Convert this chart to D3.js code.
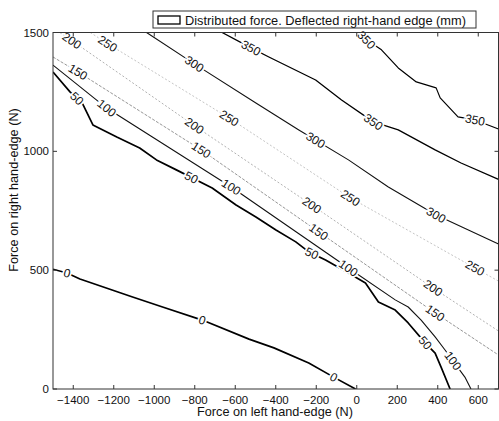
<!DOCTYPE html>
<html>
<head>
<meta charset="utf-8">
<script src="https://cdn.jsdelivr.net/npm/d3@7"></script>
<style>
  html, body { margin: 0; padding: 0; background: #fff; }
  svg { display: block; }
  text { font-family: "Liberation Sans", Arial, Helvetica, sans-serif; fill: #111; }
</style>
</head>
<body>
<svg id="chart" width="499" height="421"></svg>
<script>
// Axis ticks
const xTicks = [-1400, -1200, -1000, -800, -600, -400, -200, 0, 200, 400, 600];
const yTicks = [0, 500, 1000, 1500];

// Contour levels (mm) and their traced paths: [left-edge force N, right-edge force N]
const levels = [0, 50, 100, 150, 200, 250, 300, 350, 350];
const contour0 = [[-1500,504],[-1431,488],[-1367,463],[-1107,387],[-959,345],[-763,290],[-532,210],[-409,173],[-237,109],[-114,50],[-6,0]];
const contour50 = [[-1500,1334],[-1416,1250],[-1353,1199],[-1303,1111],[-1185,1060],[-1072,1014],[-989,964],[-891,922],[-714,846],[-596,774],[-498,724],[-399,669],[-301,619],[-237,577],[-154,543],[-41,488],[43,446],[107,366],[190,332],[254,278],[338,194],[387,151],[416,93],[461,0]];
const contour100 = [[-1500,1363],[-1235,1182],[-620,850],[-41,509],[190,375],[254,345],[318,290],[387,219],[436,164],[534,50],[564,0]];
const contour150 = [[-1500,1397],[-1377,1334],[-768,1006],[-188,661],[387,320],[700,143]];
const contour200 = [[-1466,1500],[-1407,1466],[-802,1108],[-222,774],[377,425],[700,244]];
const contour250 = [[-1316,1500],[-1230,1453],[-630,1140],[-31,804],[584,509],[700,454]];
const contour300 = [[-1038,1500],[-802,1368],[-498,1203],[-286,1090],[-41,964],[156,850],[392,732],[700,610]];
const contour350a = [[-665,1500],[-522,1435],[-434,1397],[-203,1300],[-75,1216],[82,1124],[205,1090],[387,1006],[515,951],[700,882]];
const contour350b = [[14,1500],[48,1469],[122,1427],[205,1351],[294,1292],[392,1267],[412,1225],[500,1145],[584,1132],[700,1094]];
const contourPaths = [contour0, contour50, contour100, contour150, contour200, contour250, contour300, contour350a, contour350b];

// Where each contour's inline labels sit (left-edge force, N)
const labelAt = [
  [-1431, -763, -114],
  [-1382, -817, -222, 338],
  [-1235, -620, -41, 475],
  [-1377, -768, -188, 387],
  [-1407, -802, -222, 377],
  [-1230, -630, -31, 584],
  [-802, -203, 392],
  [-522, 82],
  [48, 584]
];

const legendText = "Distributed force. Deflected right-hand edge (mm)";
const xTitle = "Force on left hand-edge (N)";
const yTitle = "Force on right hand-edge (N)";

// Stroke style per level (greyscale rendering of the level colours)
const styles = [
  { stroke: "#000", width: 1.7, dash: null },
  { stroke: "#000", width: 1.7, dash: null },
  { stroke: "#111", width: 1.1, dash: null },
  { stroke: "#8a8a8a", width: 0.9, dash: "3,1.5" },
  { stroke: "#a8a8a8", width: 0.9, dash: "2,2" },
  { stroke: "#bdbdbd", width: 0.9, dash: "2,2" },
  { stroke: "#111", width: 1.1, dash: null },
  { stroke: "#000", width: 1.3, dash: null },
  { stroke: "#000", width: 1.2, dash: null }
];

const fmt = v => String(v).replace("-", "\u2212");

const svg = d3.select("#chart");
svg.append("rect").attr("width", 499).attr("height", 421).attr("fill", "#fff");

const x = d3.scaleLinear().domain([-1500, 700]).range([53, 498.5]);
const y = d3.scaleLinear().domain([0, 1500]).range([389, 32.5]);

const plot = svg.append("g");
plot.append("clipPath").attr("id", "clip")
  .append("rect").attr("x", 53).attr("y", 32.5).attr("width", 445.5).attr("height", 356.5);

const line = d3.line().x(d => x(d[0])).y(d => y(d[1]));
const lines = plot.append("g").attr("clip-path", "url(#clip)");

contourPaths.forEach((pts, i) => {
  const s = styles[i];
  lines.append("path")
    .attr("d", line(pts))
    .attr("fill", "none")
    .attr("stroke", s.stroke)
    .attr("stroke-width", s.width)
    .attr("stroke-linejoin", "round")
    .attr("stroke-dasharray", s.dash);
});

// Inline contour labels, rotated along the local segment
function pointOn(pts, xv) {
  for (let k = 0; k < pts.length - 1; k++) {
    const a = pts[k], b = pts[k + 1];
    if ((xv >= a[0] && xv <= b[0]) || (xv <= a[0] && xv >= b[0])) {
      const t = (xv - a[0]) / (b[0] - a[0] || 1);
      return { p: [a[0] + t * (b[0] - a[0]), a[1] + t * (b[1] - a[1])], a, b };
    }
  }
  return null;
}

const labels = plot.append("g");
labelAt.forEach((xs, i) => {
  xs.forEach(xv => {
    const hit = pointOn(contourPaths[i], xv);
    if (!hit) return;
    const px = x(hit.p[0]), py = y(hit.p[1]);
    const ang = Math.atan2(y(hit.b[1]) - y(hit.a[1]), x(hit.b[0]) - x(hit.a[0])) * 180 / Math.PI;
    labels.append("text")
      .attr("transform", `translate(${px},${py}) rotate(${ang})`)
      .attr("text-anchor", "middle")
      .attr("dy", "0.35em")
      .attr("font-size", 12)
      .attr("stroke", "#fff")
      .attr("stroke-width", 3.5)
      .attr("paint-order", "stroke")
      .text(levels[i]);
  });
});

// Frame with inward ticks on all sides
const axes = svg.append("g");
axes.append("rect")
  .attr("x", 53).attr("y", 32.5).attr("width", 445.5).attr("height", 356.5)
  .attr("fill", "none").attr("stroke", "#333").attr("stroke-width", 1);

const tickLen = 4;
xTicks.forEach(v => {
  axes.append("line").attr("x1", x(v)).attr("x2", x(v)).attr("y1", 389).attr("y2", 389 - tickLen)
    .attr("stroke", "#333");
  axes.append("line").attr("x1", x(v)).attr("x2", x(v)).attr("y1", 32.5).attr("y2", 32.5 + tickLen)
    .attr("stroke", "#333");
  axes.append("text").attr("x", x(v)).attr("y", 404).attr("text-anchor", "middle")
    .attr("font-size", 11.5).text(fmt(v));
});
yTicks.forEach(v => {
  axes.append("line").attr("x1", 53).attr("x2", 53 + tickLen).attr("y1", y(v)).attr("y2", y(v))
    .attr("stroke", "#333");
  axes.append("line").attr("x1", 498.5).attr("x2", 498.5 - tickLen).attr("y1", y(v)).attr("y2", y(v))
    .attr("stroke", "#333");
  axes.append("text").attr("x", 49).attr("y", y(v)).attr("dy", "0.35em").attr("text-anchor", "end")
    .attr("font-size", 11.5).text(v);
});

// Axis titles
svg.append("text").attr("x", 275).attr("y", 416).attr("text-anchor", "middle")
  .attr("font-size", 12.7).text(xTitle);
svg.append("text").attr("transform", "translate(18,190) rotate(-90)").attr("text-anchor", "middle")
  .attr("font-size", 12.7).text(yTitle);

// Legend
const lg = svg.append("g");
lg.append("rect").attr("x", 153).attr("y", 11).attr("width", 323).attr("height", 17)
  .attr("fill", "#fff").attr("stroke", "#333").attr("stroke-width", 1);
lg.append("rect").attr("x", 158).attr("y", 16).attr("width", 22).attr("height", 8)
  .attr("fill", "#fff").attr("stroke", "#000").attr("stroke-width", 1.3);
lg.append("text").attr("x", 185).attr("y", 24.5).attr("font-size", 12.8).text(legendText);
</script>
</body>
</html>
